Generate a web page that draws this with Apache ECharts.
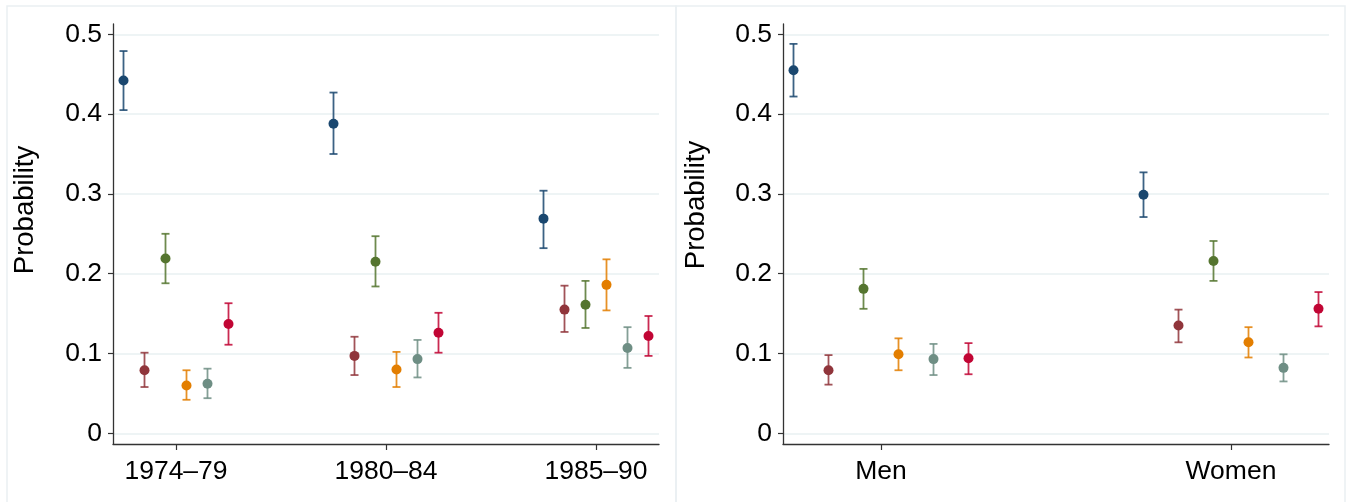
<!DOCTYPE html>
<html>
<head>
<meta charset="utf-8">
<script src="https://cdn.jsdelivr.net/npm/echarts@6/dist/echarts.min.js"></script>
<style>
html,body{margin:0;padding:0;background:#fff;}
#chart{width:1352px;height:502px;}
</style>
</head>
<body>
<div id="chart"></div>
<script>
// ---- Data ----
const periods = ['1974–79', '1980–84', '1985–90'];
const sexes = ['Men', 'Women'];
const yTitle = 'Probability';
const groupNames = ['Group 1', 'Group 2', 'Group 3', 'Group 4', 'Group 5', 'Group 6'];
const groupColors = ['#1a476f', '#90353b', '#55752f', '#e37e00', '#6e8e84', '#c10534'];
const yTicks = [0, 0.1, 0.2, 0.3, 0.4, 0.5];

// by period: [group][period]
const periodEst = [
  [0.442, 0.388, 0.269],
  [0.079, 0.097, 0.155],
  [0.219, 0.215, 0.161],
  [0.060, 0.080, 0.186],
  [0.062, 0.093, 0.107],
  [0.137, 0.126, 0.122]
];
const periodLo = [
  [0.405, 0.350, 0.232],
  [0.058, 0.073, 0.127],
  [0.188, 0.184, 0.132],
  [0.042, 0.058, 0.154],
  [0.044, 0.070, 0.082],
  [0.111, 0.101, 0.097]
];
const periodHi = [
  [0.479, 0.427, 0.304],
  [0.101, 0.121, 0.185],
  [0.250, 0.247, 0.191],
  [0.079, 0.102, 0.218],
  [0.081, 0.117, 0.133],
  [0.163, 0.151, 0.147]
];

// by sex: [group][sex]
const sexEst = [
  [0.455, 0.299],
  [0.079, 0.135],
  [0.181, 0.216],
  [0.099, 0.114],
  [0.093, 0.082],
  [0.094, 0.156]
];
const sexLo = [
  [0.422, 0.271],
  [0.061, 0.114],
  [0.156, 0.191],
  [0.079, 0.095],
  [0.073, 0.065],
  [0.074, 0.134]
];
const sexHi = [
  [0.488, 0.327],
  [0.098, 0.155],
  [0.206, 0.241],
  [0.119, 0.133],
  [0.112, 0.099],
  [0.113, 0.177]
];

// dodge offsets of the six groups around each category
const dodge = [-0.25, -0.15, -0.05, 0.05, 0.15, 0.25];

// ---- Chart ----
const chart = echarts.init(document.getElementById('chart'), null, {renderer: 'canvas'});
const FONT = '"Liberation Sans", Arial, sans-serif';
const gridColor = '#e9f0f2';
const axisColor = '#333333';
const LABEL_SIZE = 26.5;

function yAxisDef(gridIndex) {
  return {
    type: 'value', gridIndex: gridIndex,
    min: -0.0134, max: 0.5129,
    axisLine: {show: true, onZero: false, lineStyle: {color: axisColor, width: 1.3}},
    axisTick: {show: true, length: 5, customValues: yTicks, lineStyle: {color: axisColor, width: 1.2}},
    axisLabel: {customValues: yTicks, margin: 11, fontFamily: FONT, fontSize: LABEL_SIZE, color: '#000',
      formatter: v => (Math.round(v * 10) / 10).toString()},
    splitLine: {show: true, lineStyle: {color: gridColor, width: 1.5}}
  };
}
function xAxisDef(gridIndex, min, max, labels) {
  const vals = labels.map((_, i) => i + 1);
  return {
    type: 'value', gridIndex: gridIndex, min: min, max: max,
    axisLine: {show: true, onZero: false, lineStyle: {color: axisColor, width: 1.3}},
    axisTick: {show: true, length: 6, inside: false, customValues: vals, lineStyle: {color: axisColor, width: 1.2}},
    axisLabel: {customValues: vals, margin: 14, fontFamily: FONT, fontSize: LABEL_SIZE, color: '#000',
      formatter: v => labels[Math.round(v) - 1] || ''},
    splitLine: {show: false}
  };
}

function errorRender(params, api) {
  const x = api.value(0), lo = api.value(1), hi = api.value(2);
  const pLo = api.coord([x, lo]);
  const pHi = api.coord([x, hi]);
  const cap = 4;
  const style = {stroke: api.visual('color'), lineWidth: 1.8, opacity: 0.85};
  return {
    type: 'group',
    children: [
      {type: 'line', shape: {x1: pLo[0], y1: pLo[1], x2: pHi[0], y2: pHi[1]}, style: style},
      {type: 'line', shape: {x1: pLo[0] - cap, y1: pLo[1], x2: pLo[0] + cap, y2: pLo[1]}, style: style},
      {type: 'line', shape: {x1: pHi[0] - cap, y1: pHi[1], x2: pHi[0] + cap, y2: pHi[1]}, style: style}
    ]
  };
}

const series = [];
function addPanel(axisIndex, cats, est, lo, hi) {
  groupNames.forEach((name, g) => {
    const errData = cats.map((c, i) => [i + 1 + dodge[g], lo[g][i], hi[g][i]]);
    const ptData = cats.map((c, i) => [i + 1 + dodge[g], est[g][i]]);
    series.push({
      type: 'custom', name: name, xAxisIndex: axisIndex, yAxisIndex: axisIndex,
      renderItem: errorRender, data: errData, itemStyle: {color: groupColors[g]},
      encode: {x: 0, y: [1, 2]}, silent: true, z: 2
    });
    series.push({
      type: 'scatter', name: name, xAxisIndex: axisIndex, yAxisIndex: axisIndex,
      data: ptData, symbol: 'circle', symbolSize: 10,
      itemStyle: {color: groupColors[g], opacity: 1}, silent: true, z: 3
    });
  });
}
addPanel(0, periods, periodEst, periodLo, periodHi);
addPanel(1, sexes, sexEst, sexLo, sexHi);

function titleText(x, y) {
  return {type: 'text', x: x, y: y, rotation: Math.PI / 2, silent: true,
    style: {text: yTitle, fontFamily: FONT, fontSize: 27.5, fill: '#000', align: 'center', verticalAlign: 'middle'}};
}

chart.setOption({
  backgroundColor: '#ffffff',
  animation: false,
  graphic: [
    {type: 'rect', shape: {x: 7, y: 6, width: 669, height: 500}, style: {fill: 'none', stroke: '#eaf0f2', lineWidth: 1.5}, silent: true, z: -10},
    {type: 'rect', shape: {x: 676, y: 6, width: 669, height: 500}, style: {fill: 'none', stroke: '#eaf0f2', lineWidth: 1.5}, silent: true, z: -10},
    titleText(25, 210),
    titleText(696, 205)
  ],
  grid: [
    {left: 113, right: 693, top: 24, bottom: 58, containLabel: false},
    {left: 783, right: 23, top: 24, bottom: 58, containLabel: false}
  ],
  xAxis: [xAxisDef(0, 0.7, 3.3, periods), xAxisDef(1, 0.72, 2.28, sexes)],
  yAxis: [yAxisDef(0), yAxisDef(1)],
  series: series
});
</script>
</body>
</html>
